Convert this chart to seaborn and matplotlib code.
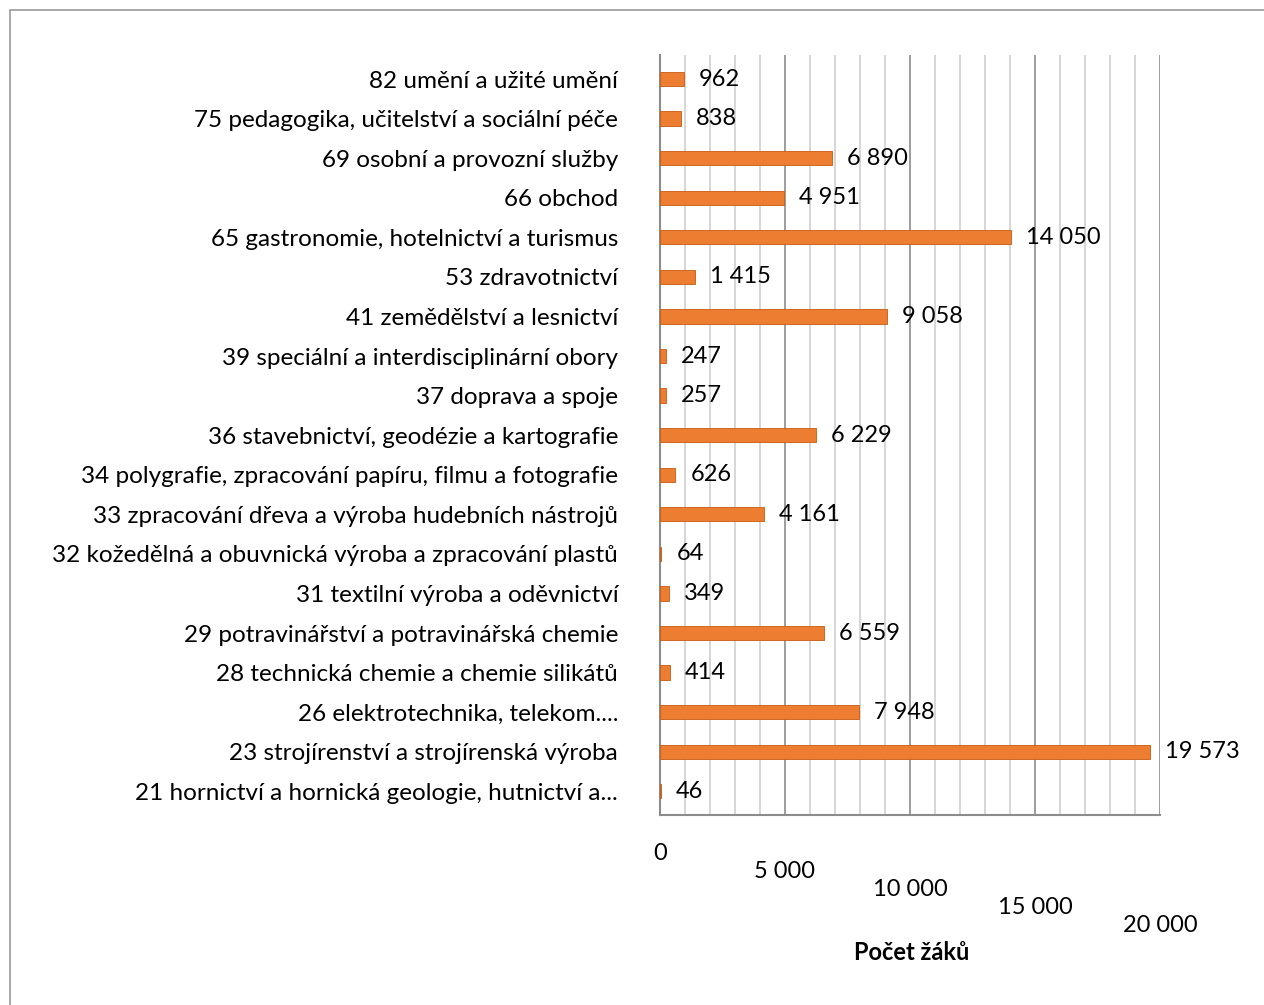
import matplotlib
matplotlib.use("Agg")
import matplotlib.pyplot as plt
import matplotlib.transforms as mtransforms
from matplotlib.patches import Rectangle
import seaborn as sns
import pandas as pd

obory = [
    "82 umění a užité umění",
    "75 pedagogika, učitelství a sociální péče",
    "69 osobní a provozní služby",
    "66 obchod",
    "65 gastronomie, hotelnictví a turismus",
    "53 zdravotnictví",
    "41 zemědělství a lesnictví",
    "39 speciální a interdisciplinární obory",
    "37 doprava a spoje",
    "36 stavebnictví, geodézie a kartografie",
    "34 polygrafie, zpracování papíru, filmu a fotografie",
    "33 zpracování dřeva a výroba hudebních nástrojů",
    "32 kožedělná a obuvnická výroba a zpracování plastů",
    "31 textilní výroba a oděvnictví",
    "29 potravinářství a potravinářská chemie",
    "28 technická chemie a chemie silikátů",
    "26 elektrotechnika, telekom....",
    "23 strojírenství a strojírenská výroba",
    "21 hornictví a hornická geologie, hutnictví a...",
]
pocet_zaku = [962, 838, 6890, 4951, 14050, 1415, 9058, 247, 257, 6229,
              626, 4161, 64, 349, 6559, 414, 7948, 19573, 46]
x_ticks = [0, 5000, 10000, 15000, 20000]

df = pd.DataFrame({"obor": obory, "pocet": pocet_zaku})

sns.set_theme(style="white")
plt.rcParams["font.family"] = ["Lato", "DejaVu Sans"]

fig = plt.figure(figsize=(12.64, 10.05), dpi=100)
ax = fig.add_axes([0.522, 0.189, 0.396, 0.756])

# chart frame
fig.patches.append(Rectangle((10 / 1264, -0.01), 1.1, 1 - 10 / 1005 + 0.01,
                             transform=fig.transFigure, fill=False,
                             edgecolor="#9a9a9a", linewidth=1.2, zorder=0))

orange = "#ED7D31"
sns.barplot(data=df, x="pocet", y="obor", orient="h", color=orange,
            width=0.36, edgecolor="#c55a11", linewidth=0.6, ax=ax,
            saturation=1, zorder=3)

ax.set_xlim(0, 20000)
ax.set_ylim(len(obory) - 0.4, -0.6)

# gridlines: light every 1000, darker every 5000
for v in range(1000, 20001, 1000):
    col = "#8c8c8c" if v % 5000 == 0 else "#d0d0d0"
    ax.axvline(v, color=col, linewidth=1.2, zorder=1)

for s in ["top", "right"]:
    ax.spines[s].set_visible(False)
ax.spines["left"].set_color("#8c8c8c")
ax.spines["bottom"].set_color("#8c8c8c")
ax.spines["left"].set_linewidth(1.5)
ax.spines["bottom"].set_linewidth(1.5)

def fmt(v):
    return f"{v:,}".replace(",", " ")

for i, v in enumerate(pocet_zaku):
    ax.text(v + 600, i, fmt(v), va="center", ha="left", fontsize=17,
            color="#000000", zorder=4)

ax.set_yticks(range(len(obory)))
ax.set_yticklabels(obory, fontsize=17.5, color="#000000")
ax.tick_params(axis="y", length=0, pad=30)

ax.set_xticks(x_ticks)
ax.set_xticklabels([fmt(t) for t in x_ticks], fontsize=17, color="#000000")
ax.tick_params(axis="x", length=0, pad=20)
# stagger the tick labels downwards toward the right
for k, lbl in enumerate(ax.get_xticklabels()):
    lbl.set_transform(lbl.get_transform() +
                      mtransforms.ScaledTranslation(0, -0.18 * k, fig.dpi_scale_trans))

ax.set_ylabel("")
ax.set_xlabel("")
fig.text(912 / 1264, 1 - 952 / 1005, "Počet žáků", fontsize=17,
         fontweight="bold", color="#000000", ha="center", va="center")

fig.savefig("out.png", dpi=100)
